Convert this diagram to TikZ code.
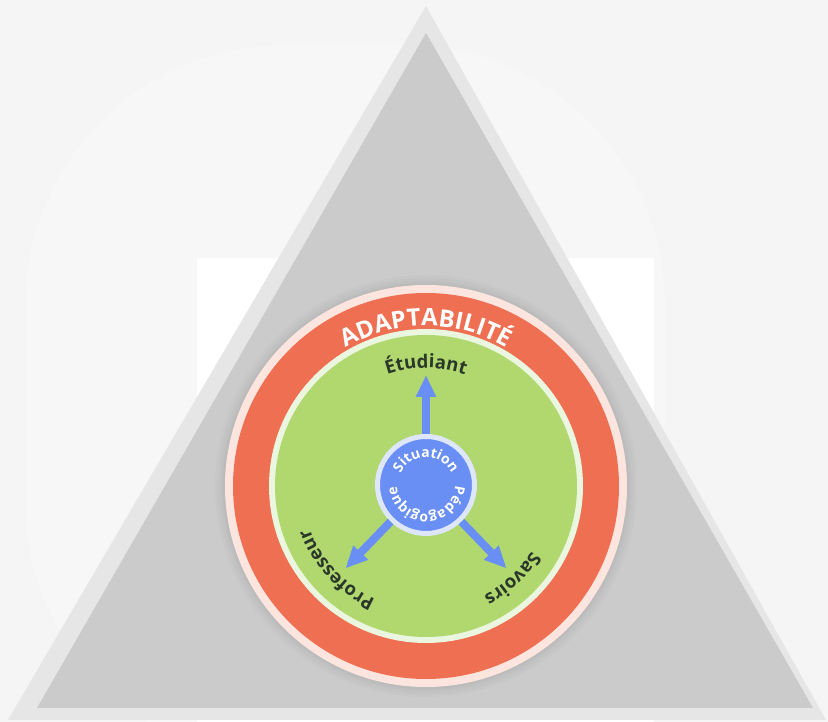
\documentclass[tikz,border=0pt]{standalone}
\usepackage{fontspec}
\setmainfont{Open Sans}
\newfontfamily\labfont{Open Sans}
\newfontfamily\ringfont{Open Sans}
\usetikzlibrary{decorations.text,arrows.meta}
\definecolor{bgc}{HTML}{F5F5F5}
\definecolor{faint}{HTML}{F7F7F7}
\definecolor{tribord}{HTML}{E6E6E6}
\definecolor{trifill}{HTML}{CBCBCB}
\definecolor{pinkc}{HTML}{FDE5DF}
\definecolor{redc}{HTML}{EE6F51}
\definecolor{palegreen}{HTML}{EAF6DF}
\definecolor{greenc}{HTML}{B0D86F}
\definecolor{paleblue}{HTML}{DDE6FB}
\definecolor{bluec}{HTML}{6A8FF4}
\definecolor{darktext}{HTML}{2A382A}
\begin{document}
\begin{tikzpicture}[x=1pt,y=1pt,
  arcText/.style={decorate,decoration={text along path,text align=center,#1}},
  flow/.style={draw=bluec,line width=8pt,-{Triangle[width=19pt,length=22pt]}}]
\useasboundingbox (0,0) rectangle (828,722);
% background
\fill[bgc] (0,0) rectangle (828,722);
\fill[faint,rounded corners=260pt] (25,-40) rectangle (665,677);
\fill[white] (197,0) rectangle (654,464);
% triangle
\fill[tribord] (426,716) -- (8,2) -- (826,2) -- cycle;
\fill[trifill] (426,689) -- (37,14) -- (813,14) -- cycle;
% circles
\coordinate (C) at (426,236);
\foreach \r in {211,208,205,203}
  \fill[black,opacity=0.018] (C) circle[radius=\r pt];
\fill[pinkc] (C) circle[radius=201pt];
\fill[redc] (C) circle[radius=193pt];
\fill[palegreen] (C) circle[radius=157pt];
\fill[greenc] (C) circle[radius=151pt];
% centre
\node[circle,minimum size=97pt,inner sep=0pt,fill=bluec,draw=paleblue,line width=5pt] (sit) at (426,237) {};
\path (426,237) ++(90:110pt) coordinate (tipE);
\path (426,237) ++(226:116pt) coordinate (tipP);
\path (426,237) ++(314:116pt) coordinate (tipS);
\draw[flow] (sit) -- (tipE);
\draw[flow] (sit) -- (tipP);
\draw[flow] (sit) -- (tipS);
% texts
\path[arcText={text color=white,text={|\ringfont\bfseries\fontsize{24}{24}\selectfont|ADAPTABILITÉ}}]
  (C) ++(140:160pt) arc[start angle=140,end angle=40,radius=160pt];
\path[arcText={text color=darktext,text={|\labfont\bfseries\fontsize{18.5}{18.5}\selectfont|Étudiant}}]
  (C) ++(130:118pt) arc[start angle=130,end angle=50,radius=118pt];
\path[arcText={text color=darktext,text={|\labfont\bfseries\fontsize{18.5}{18.5}\selectfont|Professeur}}]
  (C) ++(273:124pt) arc[start angle=273,end angle=173,radius=124pt];
\path[arcText={text color=darktext,text={|\labfont\bfseries\fontsize{18.5}{18.5}\selectfont|Savoirs}}]
  (C) ++(363:124pt) arc[start angle=363,end angle=263,radius=124pt];
\path[arcText={text color=white,text={|\ringfont\bfseries\fontsize{14}{14}\selectfont|Situation}}]
  (sit.center) ++(180:28pt) arc[start angle=180,end angle=0,radius=28pt];
\path[arcText={text color=white,text={|\ringfont\bfseries\fontsize{14}{14}\selectfont|Pédagogique}}]
  (sit.center) ++(0:29pt) arc[start angle=0,end angle=-180,radius=29pt];
\end{tikzpicture}
\end{document}
